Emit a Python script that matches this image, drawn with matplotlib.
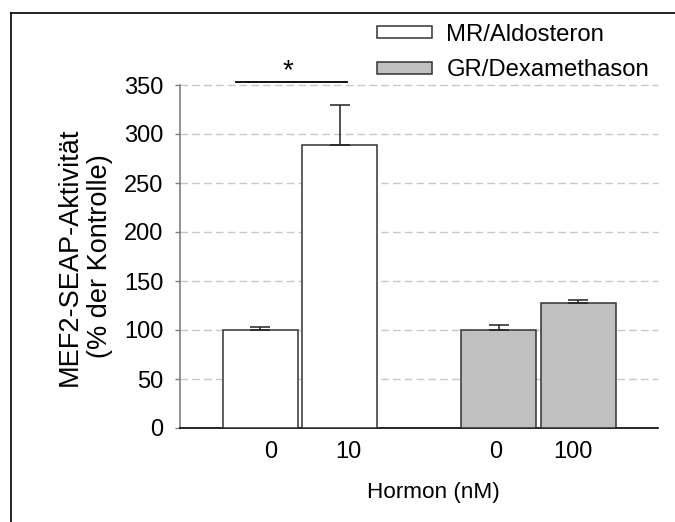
import matplotlib
matplotlib.use('Agg')
import matplotlib.pyplot as plt
from matplotlib.lines import Line2D

plt.rcParams['font.family'] = ['Liberation Sans', 'DejaVu Sans']

# Werte (% der Kontrolle)
gruppen = ['MR/Aldosteron', 'GR/Dexamethason']
dosis_labels = [['0', '10'], ['0', '100']]
mittelwerte = [[100, 289], [100, 128]]
fehler = [[3, 41], [5, 3]]
farben = ['white', '#c0c0c0']

fig = plt.figure(figsize=(6.75, 5.22), dpi=100)
ax = fig.add_axes([180 / 675, 1 - 428 / 522, 478 / 675, 343 / 522])

# Rahmen links und oben
fig.add_artist(Line2D([11 / 675, 11 / 675], [0, 1 - 13 / 522], color='black', lw=1.2))
fig.add_artist(Line2D([11 / 675, 1], [1 - 13 / 522, 1 - 13 / 522], color='black', lw=1.2))

zentren = [1.6, 4.78]
versatz = 0.533
breite = 1.0

for i, name in enumerate(gruppen):
    xs = [zentren[i] - versatz, zentren[i] + versatz]
    ax.bar(xs, mittelwerte[i], width=breite, color=farben[i], edgecolor='#333333',
           linewidth=1.1, label=name, zorder=3)
    ax.errorbar(xs, mittelwerte[i], yerr=[[0, 0], fehler[i]], fmt='none',
                ecolor='#222222', elinewidth=1.1, capsize=7, capthick=1.1, zorder=4)

# Achsenbeschriftung der Dosen
tick_pos = [1.21, 2.24, 4.21, 5.24]
ax.set_xticks(tick_pos)
ax.set_xticklabels(dosis_labels[0] + dosis_labels[1])
ax.tick_params(axis='x', length=0, pad=9, labelsize=17)
ax.tick_params(axis='y', length=3.6, width=1, color='#808080', labelsize=17, pad=8.5)

ax.set_xlim(0, 6.373)
ax.set_ylim(0, 350)
ax.set_yticks(range(0, 351, 50))
ax.set_yticklabels([str(v) for v in range(0, 351, 50)])

for y in range(50, 351, 50):
    ax.axhline(y, color='#c8c8c8', lw=1, linestyle=(0, (5.5, 3)), zorder=1, clip_on=False)

ax.spines['top'].set_visible(False)
ax.spines['right'].set_visible(False)
ax.spines['left'].set_color('#808080')
ax.spines['left'].set_linewidth(1.2)
ax.spines['bottom'].set_linewidth(1.2)

ax.set_ylabel('MEF2-SEAP-Aktivität\n(% der Kontrolle)', fontsize=19.5, labelpad=8,
              linespacing=1.2)
ax.set_xlabel('Hormon (nM)', fontsize=16.2)
ax.xaxis.set_label_coords(253 / 478, -54 / 343)

# Signifikanz zwischen 0 und 10 nM Aldosteron
ax.plot([0.747, 2.22], [352.7, 352.7], color='black', lw=1.3, clip_on=False, zorder=5)
ax.text(1.44, 357, '*', ha='center', va='baseline', fontsize=20, clip_on=False)

leg = ax.legend(loc='upper left', bbox_to_anchor=(377 / 675, 1 - 24 / 522),
                bbox_transform=fig.transFigure, frameon=False, fontsize=17.2,
                handlelength=2.3, handleheight=0.4, handletextpad=0.6,
                labelspacing=0.55, borderpad=0, borderaxespad=0)

fig.savefig('out.png', dpi=100)
